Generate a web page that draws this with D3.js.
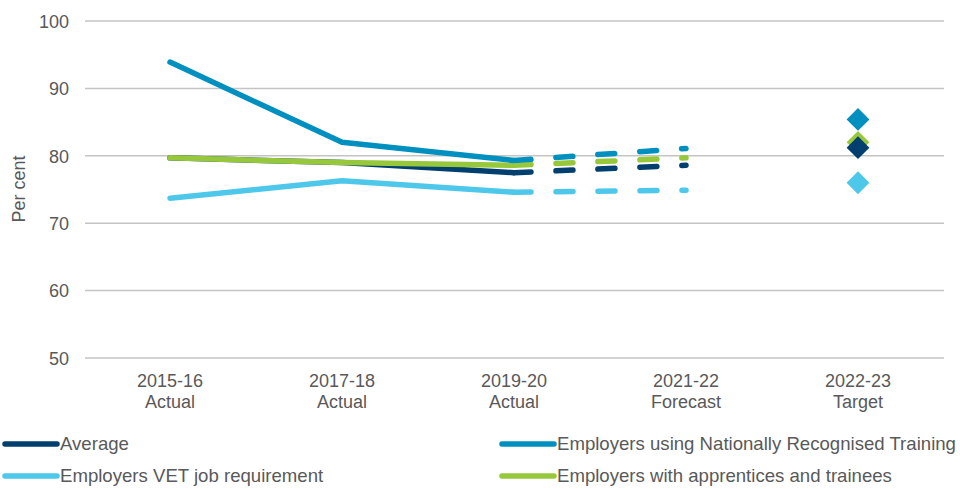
<!DOCTYPE html>
<html>
<head>
<meta charset="utf-8">
<script src="https://cdn.jsdelivr.net/npm/d3@7"></script>
<style>
	body { margin: 0; background: #fff; }
	text { font-family: "Liberation Sans", Arial, sans-serif; fill: #595959; }
</style>
</head>
<body>
<svg id="chart" width="960" height="489"></svg>
<script>
	// categories and tick labels
	var categories = ["2015-16", "2017-18", "2019-20", "2021-22", "2022-23"];
	var categorySub = ["Actual", "Actual", "Actual", "Forecast", "Target"];
	var yTicks = [50, 60, 70, 80, 90, 100];

	// actual values (2015-16, 2017-18, 2019-20)
	var averageActual = [79.7, 79.0, 77.5];
	var nrtActual = [93.9, 82.0, 79.3];
	var vetActual = [73.7, 76.3, 74.6];
	var apprActual = [79.7, 79.0, 78.6];

	// forecast values (2019-20, 2021-22)
	var averageForecast = [77.5, 78.6];
	var nrtForecast = [79.3, 81.1];
	var vetForecast = [74.6, 74.9];
	var apprForecast = [78.6, 79.7];

	// targets (2022-23)
	var averageTarget = 81.2;
	var nrtTarget = 85.4;
	var vetTarget = 76.0;
	var apprTarget = 82.0;

	var colors = { average: "#003f6e", nrt: "#0090bf", vet: "#4ec8ea", appr: "#97c83c" };

	var series = [
		{ key: "vet", name: "Employers VET job requirement", actual: vetActual, forecast: vetForecast, target: vetTarget },
		{ key: "average", name: "Average", actual: averageActual, forecast: averageForecast, target: averageTarget },
		{ key: "appr", name: "Employers with apprentices and trainees", actual: apprActual, forecast: apprForecast, target: apprTarget },
		{ key: "nrt", name: "Employers using Nationally Recognised Training", actual: nrtActual, forecast: nrtForecast, target: nrtTarget }
	];
	// diamonds: navy drawn over green
	var targetOrder = ["vet", "appr", "average", "nrt"];

	var svg = d3.select("#chart");
	var x = d3.scalePoint().domain(categories).range([84, 944]).padding(0.5);
	var y = d3.scaleLinear().domain([50, 100]).range([358, 21]);

	// gridlines
	svg.append("g").selectAll("line")
		.data(yTicks).enter().append("line")
		.attr("x1", 85).attr("x2", 944)
		.attr("y1", function (d) { return y(d); })
		.attr("y2", function (d) { return y(d); })
		.attr("stroke", "#c4c4c4").attr("stroke-width", 1.5);

	var yAxis = d3.axisLeft(y).tickValues(yTicks).tickSize(0).tickPadding(0);
	svg.append("g").attr("transform", "translate(69,0)").call(yAxis)
		.call(function (g) { g.select(".domain").remove(); })
		.selectAll("text").style("font-size", "18px").attr("dy", "0.35em")
		.attr("font-family", null).style("fill", "#595959");

	svg.append("text")
		.attr("transform", "translate(25,189) rotate(-90)")
		.attr("text-anchor", "middle")
		.style("font-size", "18px")
		.text("Per cent");

	// category labels
	var xl = svg.append("g").selectAll("text")
		.data(categories).enter().append("text")
		.attr("x", function (d) { return x(d); })
		.attr("y", 387)
		.attr("text-anchor", "middle")
		.style("font-size", "18px");
	xl.append("tspan").text(function (d) { return d; });
	xl.append("tspan").attr("x", function (d) { return x(d); }).attr("dy", 21)
		.text(function (d, i) { return categorySub[i]; });

	var line = d3.line()
		.x(function (d) { return x(d.c); })
		.y(function (d) { return y(d.v); });

	// forecast dashed lines
	svg.append("g").selectAll("path")
		.data(series).enter().append("path")
		.attr("d", function (s) {
			return line(s.forecast.map(function (v, i) { return { c: categories[2 + i], v: v }; }));
		})
		.attr("fill", "none")
		.attr("stroke", function (s) { return colors[s.key]; })
		.attr("stroke-width", 5.5)
		.attr("stroke-linecap", "round")
		.attr("stroke-dasharray", "17,25");

	// actual solid lines
	svg.append("g").selectAll("path")
		.data(series).enter().append("path")
		.attr("d", function (s) {
			return line(s.actual.map(function (v, i) { return { c: categories[i], v: v }; }));
		})
		.attr("fill", "none")
		.attr("stroke", function (s) { return colors[s.key]; })
		.attr("stroke-width", 5.5)
		.attr("stroke-linecap", "round")
		.attr("stroke-linejoin", "round");

	// target diamonds
	var diamond = d3.symbol().type(d3.symbolSquare).size(260);
	svg.append("g").selectAll("path")
		.data(targetOrder.map(function (k) { return series.find(function (s) { return s.key === k; }); }))
		.enter().append("path")
		.attr("d", diamond)
		.attr("transform", function (s) { return "translate(" + x(categories[4]) + "," + y(s.target) + ") rotate(45)"; })
		.attr("fill", function (s) { return colors[s.key]; });

	// legend
	var legend = [
		{ key: "average", name: "Average", lx: 5, ly: 444 },
		{ key: "nrt", name: "Employers using Nationally Recognised Training", lx: 502, ly: 444 },
		{ key: "vet", name: "Employers VET job requirement", lx: 5, ly: 476 },
		{ key: "appr", name: "Employers with apprentices and trainees", lx: 502, ly: 476 }
	];
	var lg = svg.append("g").selectAll("g")
		.data(legend).enter().append("g")
		.attr("class", "legend");
	lg.append("line")
		.attr("x1", function (d) { return d.lx; })
		.attr("x2", function (d) { return d.lx + 52; })
		.attr("y1", function (d) { return d.ly; })
		.attr("y2", function (d) { return d.ly; })
		.attr("stroke", function (d) { return colors[d.key]; })
		.attr("stroke-width", 5.5)
		.attr("stroke-linecap", "round");
	lg.append("text")
		.attr("x", function (d) { return d.lx + 55; })
		.attr("y", function (d) { return d.ly + 6; })
		.style("font-size", "18.6px")
		.text(function (d) { return d.name; });
</script>
</body>
</html>
